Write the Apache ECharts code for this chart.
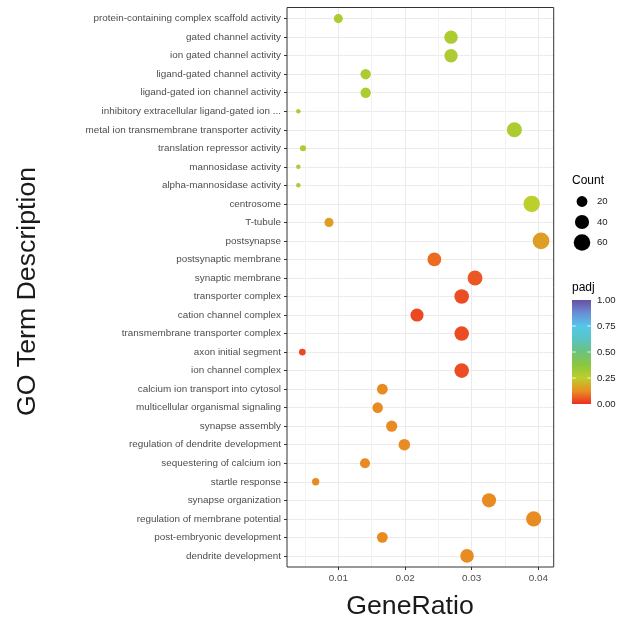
<!DOCTYPE html>
<html>
<head>
<meta charset="utf-8">
<title>GO enrichment dot plot</title>
<script src="https://cdn.jsdelivr.net/npm/echarts@6/dist/echarts.min.js"></script>
<style>
  html, body { margin: 0; padding: 0; background: #fff; }
  #chart { width: 633px; height: 620px; }
</style>
</head>
<body>
<div id="chart"></div>
<script>
// GO terms, top to bottom
const terms = [
  'protein-containing complex scaffold activity',
  'gated channel activity',
  'ion gated channel activity',
  'ligand-gated channel activity',
  'ligand-gated ion channel activity',
  'inhibitory extracellular ligand-gated ion ...',
  'metal ion transmembrane transporter activity',
  'translation repressor activity',
  'mannosidase activity',
  'alpha-mannosidase activity',
  'centrosome',
  'T-tubule',
  'postsynapse',
  'postsynaptic membrane',
  'synaptic membrane',
  'transporter complex',
  'cation channel complex',
  'transmembrane transporter complex',
  'axon initial segment',
  'ion channel complex',
  'calcium ion transport into cytosol',
  'multicellular organismal signaling',
  'synapse assembly',
  'regulation of dendrite development',
  'sequestering of calcium ion',
  'startle response',
  'synapse organization',
  'regulation of membrane potential',
  'post-embryonic development',
  'dendrite development'
];

const geneRatio = [
  0.0100, 0.0269, 0.0269, 0.0141, 0.0141, 0.0040, 0.0364, 0.0047, 0.0040, 0.0040,
  0.0390, 0.0086, 0.0404, 0.0244, 0.0305, 0.0285, 0.0218, 0.0285, 0.0046, 0.0285,
  0.0166, 0.0159, 0.0180, 0.0199, 0.0140, 0.0066, 0.0326, 0.0393, 0.0166, 0.0293
];

const geneCount = [
  13, 35, 35, 18, 18, 5, 47, 6, 5, 5,
  58, 13, 61, 37, 46, 43, 33, 43, 7, 43,
  20, 19, 22, 24, 17, 8, 40, 48, 20, 36
];

const padj = [
  0.29, 0.29, 0.29, 0.29, 0.29, 0.29, 0.29, 0.29, 0.29, 0.29,
  0.25, 0.155, 0.155, 0.08, 0.055, 0.04, 0.035, 0.04, 0.035, 0.04,
  0.12, 0.12, 0.12, 0.12, 0.12, 0.12, 0.12, 0.12, 0.12, 0.12
];

const xMajorTicks = [0.01, 0.02, 0.03, 0.04];
const xMinorTicks = [0.005, 0.015, 0.025, 0.035];
const countBreaks = [20, 40, 60];
const padjBreaks = [1.00, 0.75, 0.50, 0.25, 0.00];

// rainbow palette for padj, evenly spaced from 0 to 1
const padjPalette = [
  '#EE2C24', '#E98F23', '#BCCF2C', '#8CC640', '#6CC27C',
  '#5AC4C4', '#55C6EA', '#6A8ED6', '#6A4FA2'
];

// ---- layout ----
const W = 633, H = 620;
const panel = { left: 287, top: 7.5, right: 553.7, bottom: 567 };
const xMin = 0.0023, xMax = 0.0423;
const rowUnit = (panel.bottom - panel.top) / (terms.length - 1 + 1.2);
const plotTop = panel.top + 0.6 * rowUnit;
const plotBottom = panel.bottom - 0.6 * rowUnit;
const xPx = v => panel.left + (v - xMin) / (xMax - xMin) * (panel.right - panel.left);

// point size: area-style scale over the count range
const cMin = Math.min(...geneCount), cMax = Math.max(...geneCount);
const dotSize = c => 4.5 + 12.2 * Math.sqrt(Math.max(0, (c - cMin) / (cMax - cMin)));

const FONT = '"Liberation Sans", Arial, Helvetica, sans-serif';
const GRID_COLOR = '#EBEBEB';
const AXIS_TEXT = 9.9;
const LEGEND_TEXT = 9.6;

const chart = echarts.init(document.getElementById('chart'), null, { renderer: 'canvas' });

const hiddenAxis = (gridIndex, extra) => Object.assign({
  type: 'value', gridIndex: gridIndex, show: false,
  axisLine: { show: false }, axisTick: { show: false },
  axisLabel: { show: false }, splitLine: { show: false }
}, extra || {});

// legend graphics: size keys and colour bar
const legendX = 572;
const graphics = [];
graphics.push({
  type: 'text', x: legendX, y: 180.5,
  style: { text: 'Count', font: '12px ' + FONT, fill: '#000', textAlign: 'left', textVerticalAlign: 'middle' }
});
const keyY = [201.5, 222, 242.5];
countBreaks.forEach((c, i) => {
  graphics.push({
    type: 'circle', shape: { cx: 582, cy: keyY[i], r: dotSize(c) / 2 },
    style: { fill: '#000' }
  });
  graphics.push({
    type: 'text', x: 597, y: keyY[i],
    style: { text: String(c), font: LEGEND_TEXT + 'px ' + FONT, fill: '#1A1A1A', textAlign: 'left', textVerticalAlign: 'middle' }
  });
});
graphics.push({
  type: 'text', x: legendX, y: 287.5,
  style: { text: 'padj', font: '12px ' + FONT, fill: '#000', textAlign: 'left', textVerticalAlign: 'middle' }
});
const barTop = 300, barBottom = 404, barW = 19;
graphics.push({
  type: 'rect', shape: { x: legendX, y: barTop, width: barW, height: barBottom - barTop },
  style: {
    fill: new echarts.graphic.LinearGradient(0, 1, 0, 0,
      padjPalette.map((c, i) => ({ offset: i / (padjPalette.length - 1), color: c })))
  }
});
padjBreaks.forEach(v => {
  const y = barBottom - v * (barBottom - barTop);
  if (v > 0 && v < 1) {
    graphics.push({ type: 'line', shape: { x1: legendX, y1: y, x2: legendX + 3.8, y2: y }, style: { stroke: '#fff', lineWidth: 0.8 } });
    graphics.push({ type: 'line', shape: { x1: legendX + barW - 3.8, y1: y, x2: legendX + barW, y2: y }, style: { stroke: '#fff', lineWidth: 0.8 } });
  }
  graphics.push({
    type: 'text', x: 597, y: y,
    style: { text: v.toFixed(2), font: LEGEND_TEXT + 'px ' + FONT, fill: '#1A1A1A', textAlign: 'left', textVerticalAlign: 'middle' }
  });
});
// axis titles
graphics.push({
  type: 'text', x: 410, y: 607,
  style: { text: 'GeneRatio', font: '26.7px ' + FONT, fill: '#1A1A1A', textAlign: 'center', textVerticalAlign: 'middle' }
});
graphics.push({
  type: 'text', x: 28, y: 291.5, rotation: Math.PI / 2,
  style: { text: 'GO Term Description', font: '26.7px ' + FONT, fill: '#1A1A1A', textAlign: 'center', textVerticalAlign: 'middle' }
});

const option = {
  backgroundColor: '#fff',
  animation: false,
  grid: [
    // 0: panel frame
    { left: panel.left, top: panel.top, right: W - panel.right, bottom: H - panel.bottom,
      show: true, borderColor: '#333', borderWidth: 1, backgroundColor: 'transparent', z: 10 },
    // 1: major vertical grid lines + x tick labels
    { left: xPx(xMajorTicks[0]), right: W - xPx(xMajorTicks[xMajorTicks.length - 1]),
      top: panel.top, bottom: H - panel.bottom },
    // 2: minor vertical grid lines
    { left: xPx(xMinorTicks[0]), right: W - xPx(xMinorTicks[xMinorTicks.length - 1]),
      top: panel.top, bottom: H - panel.bottom },
    // 3: the points
    { left: panel.left, right: W - panel.right, top: plotTop, bottom: H - plotBottom }
  ],
  xAxis: [
    hiddenAxis(0, { min: 0, max: 1 }),
    {
      type: 'value', gridIndex: 1,
      min: xMajorTicks[0], max: xMajorTicks[xMajorTicks.length - 1], interval: 0.01,
      axisLine: { show: false },
      axisTick: { show: true, length: 3, lineStyle: { color: '#333', width: 1 } },
      axisLabel: { show: true, margin: 6, color: '#4D4D4D', fontSize: AXIS_TEXT, fontFamily: FONT,
        formatter: v => v.toFixed(2) },
      splitLine: { show: true, lineStyle: { color: GRID_COLOR, width: 1 } }
    },
    {
      type: 'value', gridIndex: 2,
      min: xMinorTicks[0], max: xMinorTicks[xMinorTicks.length - 1], interval: 0.01,
      axisLine: { show: false }, axisTick: { show: false }, axisLabel: { show: false },
      splitLine: { show: true, lineStyle: { color: '#F2F2F2', width: 1 } }
    },
    hiddenAxis(3, { min: xMin, max: xMax })
  ],
  yAxis: [
    hiddenAxis(0, { min: 0, max: 1 }),
    hiddenAxis(1, { min: 0, max: 1 }),
    hiddenAxis(2, { min: 0, max: 1 }),
    {
      type: 'category', gridIndex: 3, data: terms, inverse: true, boundaryGap: false,
      axisLine: { show: false },
      axisTick: { show: true, length: 3, interval: 0, lineStyle: { color: '#333', width: 1 } },
      axisLabel: { show: true, interval: 0, margin: 6, color: '#4D4D4D', fontSize: AXIS_TEXT, fontFamily: FONT },
      splitLine: { show: true, interval: 0, lineStyle: { color: GRID_COLOR, width: 1 } }
    }
  ],
  visualMap: {
    type: 'continuous', show: false, seriesIndex: 0, dimension: 3,
    min: 0, max: 1, inRange: { color: padjPalette }
  },
  series: [{
    type: 'scatter', xAxisIndex: 3, yAxisIndex: 3, z: 3,
    data: terms.map((t, i) => [geneRatio[i], t, geneCount[i], padj[i]]),
    symbol: 'circle',
    symbolSize: v => dotSize(v[2]),
    itemStyle: { opacity: 1, borderWidth: 0 }
  }],
  graphic: graphics
};

chart.setOption(option);
</script>
</body>
</html>
